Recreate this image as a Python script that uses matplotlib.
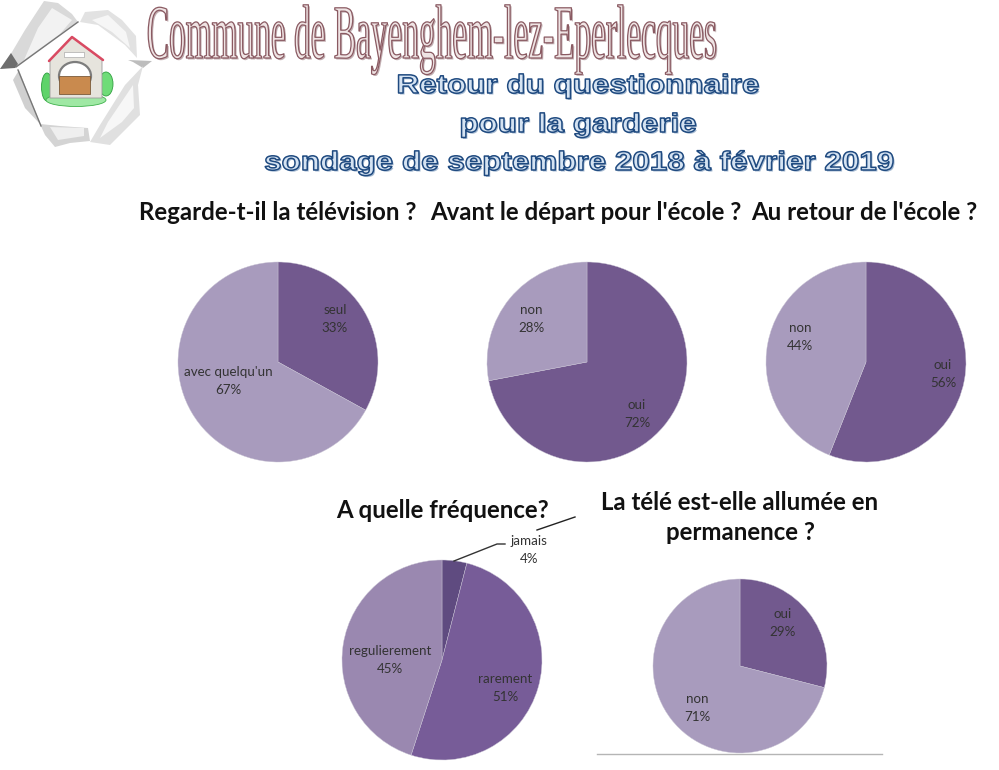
import matplotlib
matplotlib.use('Agg')
import matplotlib.pyplot as plt
import matplotlib.patheffects as pe
from matplotlib.patches import Polygon, Rectangle, Ellipse
from matplotlib.transforms import Affine2D

# valeurs
tv_labels = ['seul', "avec quelqu'un"]
tv_values = [33, 67]
depart_labels = ['oui', 'non']
depart_values = [72, 28]
retour_labels = ['oui', 'non']
retour_values = [56, 44]
freq_labels = ['jamais', 'rarement', 'regulierement']
freq_values = [4, 51, 45]
allumee_labels = ['oui', 'non']
allumee_values = [29, 71]

W, H = 999, 770
DARK = '#72598e'
LIGHT = '#a89bbd'
F_JAMAIS = '#5f4b80'
F_RARE = '#775c98'
F_REG = '#9a88b0'
LABEL = '#333333'


class Stretch(pe.AbstractPathEffect):
    # deforme le texte en x et en y (effet WordArt)
    def __init__(self, x0, y0, sx, sy, dx=0, dy=0, edge=None, lw=1.0, face=None):
        self.x0, self.y0, self.sx, self.sy = x0, y0, sx, sy
        self.dx, self.dy = dx, dy
        self.edge, self.lw, self.face = edge, lw, face

    def draw_path(self, renderer, gc, tpath, affine, rgbFace=None):
        tr = affine + Affine2D().translate(-self.x0, -self.y0).scale(self.sx, self.sy) \
            .translate(self.x0 + self.dx, self.y0 + self.dy)
        gc0 = renderer.new_gc()
        gc0.copy_properties(gc)
        gc0.set_linewidth(self.lw)
        gc0.set_foreground(self.edge if self.edge else 'none')
        if not self.edge:
            gc0.set_linewidth(0)
        face = matplotlib.colors.to_rgba(self.face) if self.face else None
        renderer.draw_path(gc0, tpath, tr, face)
        gc0.restore()


def draw_pie(cx, cy, r, values, colors):
    a = fig.add_axes([(cx - r) / W, 1 - (cy + r) / H, 2 * r / W, 2 * r / H])
    a.pie(values, colors=colors, startangle=90, counterclock=False, radius=1,
          wedgeprops={'edgecolor': '#c9c4d4', 'linewidth': 0.3})
    a.set_xlim(-1, 1)
    a.set_ylim(-1, 1)


def pie_label(x, y, name, value):
    ax.text(x, y, f'{name}\n{value}%', ha='center', va='center', fontsize=9.6,
            family='Lato', color=LABEL, linespacing=1.55)


def wordart(xc, baseline, s, size, family, weight, sx, sy, edge, face, shadow, lw):
    # xc et baseline en pixels depuis le haut a gauche
    px, py = xc, H - baseline
    effects = [Stretch(px, py, sx, sy, 1.5, -1.5, None, 0, shadow),
               Stretch(px, py, sx, sy, 0, 0, edge, lw, face)]
    ax.text(xc, baseline, s, ha='center', va='baseline', fontsize=size, family=family,
            fontweight=weight, path_effects=effects)


def draw_logo():
    # papier dechire : rabats gris sans contour
    flaps = [([(0, 69), (12, 52), (25, 30), (44, 1), (58, 3), (72, 14), (78, 22), (18, 66)], '#d9d9d9'),
             ([(24, 60), (38, 28), (52, 8), (72, 20), (60, 34)], '#f2f2f2'),
             ([(0, 69), (11, 53), (18, 64), (15, 68)], '#6e6e6e'),
             ([(80, 22), (85, 12), (108, 10), (122, 20), (136, 36), (137, 58), (125, 45), (98, 25)], '#e2e2e2'),
             ([(92, 20), (108, 15), (126, 32), (130, 48), (112, 32)], '#f6f6f6'),
             ([(128, 60), (152, 61), (143, 68), (133, 62)], '#bdbdbd'),
             ([(143, 66), (125, 85), (100, 125), (90, 142), (110, 145), (130, 125), (140, 115), (138, 85)], '#e0e0e0'),
             ([(133, 85), (108, 122), (100, 138), (122, 122), (134, 108)], '#f7f7f7'),
             ([(40, 124), (45, 135), (55, 147), (70, 143), (90, 141), (88, 128), (60, 126)], '#d4d4d4'),
             ([(50, 127), (58, 140), (84, 136), (84, 128)], '#efefef'),
             ([(13, 80), (25, 108), (41, 125), (26, 88), (19, 70)], '#d0d0d0')]
    for pts, col in flaps:
        ax.add_patch(Polygon(pts, fc=col, ec='none'))
    ax.plot([16, 78], [67, 22], color='#777777', lw=1)
    ax.plot([18, 41], [70, 126], color='#777777', lw=1)
    # verdure
    ax.add_patch(Ellipse((47, 87), 11, 28, fc='#5fd36a', ec='#2f9f3f', lw=0.6))
    ax.add_patch(Ellipse((106, 84), 14, 24, fc='#6fdc78', ec='#2f9f3f', lw=0.6))
    ax.add_patch(Ellipse((76, 100), 60, 13, fc='#9fe8a4', ec='#3fb24c', lw=0.6))
    # maison et portail
    ax.add_patch(Polygon([(50, 60), (72, 37), (102, 60), (102, 98), (50, 98)],
                         fc='#e6e4dd', ec='#9a9a9a', lw=0.6))
    ax.plot([49, 72, 103], [61, 37, 60], color='#d94a62', lw=1.8, solid_capstyle='round')
    ax.add_patch(Rectangle((64, 52), 20, 5, fc='white', ec='#9a9a9a', lw=0.4))
    ax.add_patch(Ellipse((75, 76), 32, 28, fc='white', ec='#7d7d7d', lw=1.6))
    ax.add_patch(Rectangle((59, 76), 31, 18, fc='#c98a4e', ec='#7a5a3a', lw=0.6))


fig = plt.figure(figsize=(W / 100, H / 100), dpi=100, facecolor='white')

draw_pie(278, 362, 100, tv_values, [DARK, LIGHT])
draw_pie(587, 362, 100, depart_values, [DARK, LIGHT])
draw_pie(866, 362, 100, retour_values, [DARK, LIGHT])
draw_pie(442, 660, 100, freq_values, [F_JAMAIS, F_RARE, F_REG])
draw_pie(740, 666, 87, allumee_values, [DARK, LIGHT])

ax = fig.add_axes([0, 0, 1, 1], facecolor='none')
ax.set_xlim(0, W)
ax.set_ylim(H, 0)
ax.axis('off')

draw_logo()

wordart(432, 58, 'Commune de Bayenghem-lez-Eperlecques', 24, 'Liberation Serif', 'normal',
        1.0, 2.3, '#8a5a62', '#efe4e4', '#c3b0b3', 0.9)
wordart(578, 93, 'Retour du questionnaire', 19, 'Liberation Sans', 'bold',
        1.19, 1.0, '#1f4a80', '#d5e3f2', '#a7bbd2', 1.1)
wordart(578, 132, 'pour la garderie', 19, 'Liberation Sans', 'bold',
        1.19, 1.0, '#1f4a80', '#d5e3f2', '#a7bbd2', 1.1)
wordart(579, 170, 'sondage de septembre 2018 à février 2019', 19, 'Liberation Sans', 'bold',
        1.19, 1.0, '#1f4a80', '#d5e3f2', '#a7bbd2', 1.1)

for x, y, s in [(278, 213, 'Regarde-t-il la télévision ?'),
                (586, 213, "Avant le départ pour l'école ?"),
                (864, 213, "Au retour de l'école ?"),
                (442, 511, 'A quelle fréquence?'),
                (740, 502, 'La télé est-elle allumée en'),
                (740, 533, 'permanence ?')]:
    ax.text(x, y, s, ha='center', va='center', fontsize=17.3, family='Lato',
            fontweight='bold', color='#111111')

pie_label(335, 319, tv_labels[0], tv_values[0])
pie_label(228, 381, tv_labels[1], tv_values[1])
pie_label(637, 414, depart_labels[0], depart_values[0])
pie_label(531, 319, depart_labels[1], depart_values[1])
pie_label(943, 374, retour_labels[0], retour_values[0])
pie_label(800, 337, retour_labels[1], retour_values[1])
pie_label(529, 550, freq_labels[0], freq_values[0])
pie_label(505, 688, freq_labels[1], freq_values[1])
pie_label(390, 660, freq_labels[2], freq_values[2])
pie_label(783, 623, allumee_labels[0], allumee_values[0])
pie_label(697, 708, allumee_labels[1], allumee_values[1])

# trait de rappel "jamais" et son reste en haut
ax.plot([454, 497, 505], [561, 544, 544], color='#333333', lw=1)
ax.plot([537, 575], [530, 517], color='#222222', lw=1)
# bas du cadre du dernier graphique
ax.plot([597, 882], [754, 754], color='#b5b5b5', lw=1)

fig.savefig('out.png', dpi=100)
